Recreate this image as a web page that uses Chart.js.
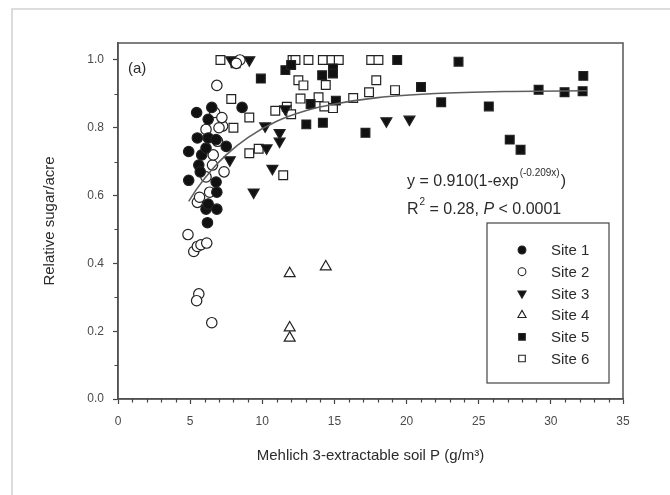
<!DOCTYPE html>
<html>
<head>
<meta charset="utf-8">
<script src="https://cdn.jsdelivr.net/npm/chart.js@4/dist/chart.umd.min.js"></script>
<style>
    html, body { margin: 0; padding: 0; background: #fff; }
    #wrap { width: 670px; height: 495px; position: relative; }
</style>
</head>
<body>
<div id="wrap"><canvas id="chart" width="670" height="495"></canvas></div>
<script>
// site labels and the points, [soil P, relative sugar/acre]
const siteNames = ['Site 1', 'Site 2', 'Site 3', 'Site 4', 'Site 5', 'Site 6'];

const site1 = [[4.9, 0.73], [4.9, 0.645], [5.45, 0.845], [5.5, 0.77], [5.6, 0.69], [5.7, 0.67],
    [5.8, 0.72], [6.1, 0.74], [6.1, 0.56], [6.2, 0.52], [6.25, 0.825], [6.25, 0.77], [6.25, 0.575],
    [6.5, 0.86], [6.8, 0.765], [6.8, 0.64], [6.85, 0.61], [6.85, 0.56], [7.5, 0.745], [8.6, 0.86]];
const site2 = [[4.85, 0.485], [5.25, 0.435], [5.5, 0.45], [5.75, 0.455], [6.15, 0.46], [5.6, 0.31],
    [5.45, 0.29], [6.5, 0.225], [5.5, 0.58], [5.65, 0.595], [6.35, 0.61], [6.1, 0.655], [6.55, 0.69],
    [7.35, 0.67], [6.9, 0.76], [6.1, 0.795], [7.25, 0.805], [6.7, 0.845], [7.2, 0.83], [6.85, 0.925],
    [8.45, 1.0], [8.2, 0.99], [6.6, 0.72], [7.0, 0.80]];
const site3 = [[7.85, 1.0], [9.1, 1.0], [7.75, 0.705], [9.4, 0.61], [10.2, 0.805], [10.3, 0.74],
    [10.7, 0.68], [11.2, 0.785], [11.2, 0.76], [11.6, 0.855], [18.6, 0.82], [20.2, 0.825]];
const site4 = [[11.9, 0.37], [11.9, 0.21], [11.9, 0.18], [14.4, 0.39]];
const site5 = [[9.9, 0.945], [11.6, 0.97], [12.0, 0.985], [13.05, 0.81], [13.35, 0.87], [14.2, 0.815],
    [14.15, 0.955], [14.9, 0.975], [14.9, 0.96], [15.1, 0.88], [17.15, 0.785], [19.35, 1.0],
    [21.0, 0.92], [22.4, 0.875], [23.6, 0.995], [25.7, 0.863], [27.15, 0.765], [27.9, 0.735],
    [29.15, 0.912], [30.95, 0.905], [32.2, 0.908], [32.25, 0.953]];
const site6 = [[7.1, 1.0], [8.15, 0.99], [12.1, 1.0], [12.3, 1.0], [13.2, 1.0], [14.2, 1.0], [14.8, 1.0],
    [15.3, 1.0], [17.55, 1.0], [18.05, 1.0], [7.85, 0.885], [8.0, 0.8], [9.1, 0.83], [9.1, 0.725],
    [9.75, 0.738], [10.9, 0.85], [11.7, 0.862], [12.0, 0.84], [11.45, 0.66], [12.5, 0.94],
    [12.85, 0.925], [14.4, 0.926], [12.65, 0.886], [13.9, 0.89], [14.3, 0.863], [14.9, 0.858],
    [16.3, 0.888], [17.4, 0.905], [17.9, 0.94], [19.2, 0.911]];

// fitted curve as traced on the figure
const fitX = [4.9, 5.5, 6.5, 7.5, 9, 11, 13, 15, 18, 22, 27, 32.5];
const fitY = [0.583, 0.622, 0.676, 0.72, 0.771, 0.819, 0.85, 0.87, 0.889, 0.901, 0.907, 0.909];

const xTicks = [0, 5, 10, 15, 20, 25, 30, 35];
const yTicks = [0.0, 0.2, 0.4, 0.6, 0.8, 1.0];

const eqLine = ['y = 0.910(1-exp', '(-0.209x)', ')'];
const statLine = ['R', '2', ' = 0.28, ', 'P', ' < 0.0001'];
const panelLabel = '(a)';
const xTitle = 'Mehlich 3-extractable soil P (g/m³)';
const yTitle = 'Relative sugar/acre';

const FONT = "'Liberation Sans', Arial, sans-serif";
const INK = '#2b2b2b';

// marker look per site
const markers = [
    {pointStyle: 'circle', rotation: 0, filled: true, r: 5.2},
    {pointStyle: 'circle', rotation: 0, filled: false, r: 5.2},
    {pointStyle: 'triangle', rotation: 180, filled: true, r: 6.3},
    {pointStyle: 'triangle', rotation: 0, filled: false, r: 6.3},
    {pointStyle: 'rect', rotation: 0, filled: true, r: 6.2},
    {pointStyle: 'rect', rotation: 0, filled: false, r: 6.2}
];

const toXY = arr => arr.map(p => ({x: p[0], y: p[1]}));
const sites = [site1, site2, site3, site4, site5, site6];

const datasets = sites.map((s, i) => ({
    label: siteNames[i],
    data: toXY(s),
    pointStyle: markers[i].pointStyle,
    rotation: markers[i].rotation,
    pointRadius: markers[i].r,
    pointHoverRadius: markers[i].r,
    backgroundColor: markers[i].filled ? '#111' : '#fff',
    borderColor: '#222',
    borderWidth: 1.2,
    showLine: false
}));

datasets.unshift({
    label: 'fit',
    data: fitX.map((x, i) => ({x: x, y: fitY[i]})),
    showLine: true,
    borderColor: '#5e5e5e',
    borderWidth: 1.6,
    pointRadius: 0,
    cubicInterpolationMode: 'monotone',
    order: -1
});

// minor ticks, frame, legend box and annotation texts
const decorations = {
    id: 'decorations',
    beforeDraw(chart) {
        const ctx = chart.ctx;
        ctx.save();
        ctx.strokeStyle = '#dcdcdc';
        ctx.lineWidth = 2;
        ctx.beginPath();
        ctx.moveTo(12, 495);
        ctx.lineTo(12, 9);
        ctx.lineTo(670, 9);
        ctx.stroke();
        ctx.restore();
    },
    afterDraw(chart) {
        const ctx = chart.ctx;
        const a = chart.chartArea;
        const xs = chart.scales.x, ys = chart.scales.y;
        ctx.save();

        // box around plot
        ctx.strokeStyle = '#555';
        ctx.lineWidth = 1.5;
        ctx.strokeRect(a.left, a.top, a.right - a.left, a.bottom - a.top);

        // minor ticks
        ctx.strokeStyle = '#444';
        ctx.lineWidth = 1.2;
        ctx.beginPath();
        for (let v = 1; v < 35; v++) {
            if (v % 5 === 0) continue;
            const px = Math.round(xs.getPixelForValue(v)) + 0.5;
            ctx.moveTo(px, a.bottom);
            ctx.lineTo(px, a.bottom + 3.5);
        }
        for (let k = 1; k < 10; k += 2) {
            const py = Math.round(ys.getPixelForValue(k / 10)) + 0.5;
            ctx.moveTo(a.left, py);
            ctx.lineTo(a.left - 3.5, py);
        }
        ctx.stroke();

        // panel label
        ctx.fillStyle = INK;
        ctx.textBaseline = 'middle';
        ctx.font = '15px ' + FONT;
        ctx.fillText(panelLabel, 128, 69);

        // equation
        let x = 407;
        ctx.font = '16px ' + FONT;
        ctx.fillText(eqLine[0], x, 182);
        x += ctx.measureText(eqLine[0]).width + 1;
        ctx.font = '10px ' + FONT;
        ctx.fillText(eqLine[1], x, 173);
        x += ctx.measureText(eqLine[1]).width + 1;
        ctx.font = '16px ' + FONT;
        ctx.fillText(eqLine[2], x, 182);

        x = 407;
        ctx.fillText(statLine[0], x, 210);
        x += ctx.measureText(statLine[0]).width + 1;
        ctx.font = '10px ' + FONT;
        ctx.fillText(statLine[1], x, 202);
        x += ctx.measureText(statLine[1]).width;
        ctx.font = '16px ' + FONT;
        ctx.fillText(statLine[2], x, 210);
        x += ctx.measureText(statLine[2]).width;
        ctx.font = 'italic 16px ' + FONT;
        ctx.fillText(statLine[3], x, 210);
        x += ctx.measureText(statLine[3]).width;
        ctx.font = '16px ' + FONT;
        ctx.fillText(statLine[4], x, 210);

        // legend
        ctx.strokeStyle = '#444';
        ctx.lineWidth = 1.2;
        ctx.strokeRect(487, 223, 122, 160);
        ctx.font = '15px ' + FONT;
        siteNames.forEach((name, i) => {
            const y = 250 + i * 21.7;
            const m = markers[i];
            ctx.fillStyle = m.filled ? '#111' : '#fff';
            ctx.strokeStyle = '#222';
            ctx.lineWidth = 1.1;
            Chart.helpers.drawPoint(ctx, {
                pointStyle: m.pointStyle,
                rotation: m.rotation,
                radius: m.r * 0.75,
                borderWidth: 1.1
            }, 522, y);
            ctx.fillStyle = INK;
            ctx.fillText(name, 551, y + 1);
        });
        ctx.restore();
    }
};

const config = {
    type: 'scatter',
    data: {datasets: datasets},
    options: {
        responsive: false,
        animation: false,
        events: [],
        layout: {padding: {left: 0, top: 43, right: 47, bottom: 0}},
        plugins: {legend: {display: false}, tooltip: {enabled: false}},
        scales: {
            x: {
                type: 'linear',
                min: 0,
                max: 35,
                afterBuildTicks: scale => {
                    scale.ticks = xTicks.map(v => ({value: v}));
                },
                afterFit: scale => {
                    scale.height = 96;
                },
                grid: {drawOnChartArea: false, drawTicks: true, tickLength: 5, color: '#444', tickWidth: 1.2},
                border: {color: '#444', width: 1.5},
                ticks: {
                    color: '#4a4a4a',
                    font: {family: FONT, size: 12},
                    padding: 10,
                    maxRotation: 0,
                    callback: v => String(v)
                },
                title: {
                    display: true,
                    text: xTitle,
                    color: INK,
                    font: {family: FONT, size: 15},
                    padding: {top: 0, bottom: 30}
                }
            },
            y: {
                type: 'linear',
                min: 0,
                max: 1.05,
                afterBuildTicks: scale => {
                    scale.ticks = yTicks.map(v => ({value: v}));
                },
                afterFit: scale => {
                    scale.width = 118;
                },
                grid: {drawOnChartArea: false, drawTicks: true, tickLength: 5, color: '#444', tickWidth: 1.2},
                border: {color: '#444', width: 1.5},
                ticks: {
                    color: '#4a4a4a',
                    font: {family: FONT, size: 12},
                    padding: 9,
                    callback: v => v.toFixed(1)
                },
                title: {
                    display: true,
                    text: yTitle,
                    color: INK,
                    font: {family: FONT, size: 15},
                    padding: {top: 41, bottom: 0}
                }
            }
        }
    },
    plugins: [decorations]
};

window.onload = () => {
    const ctx = document.getElementById('chart').getContext('2d');
    window.myChart = new Chart(ctx, config);
};
</script>
</body>
</html>
